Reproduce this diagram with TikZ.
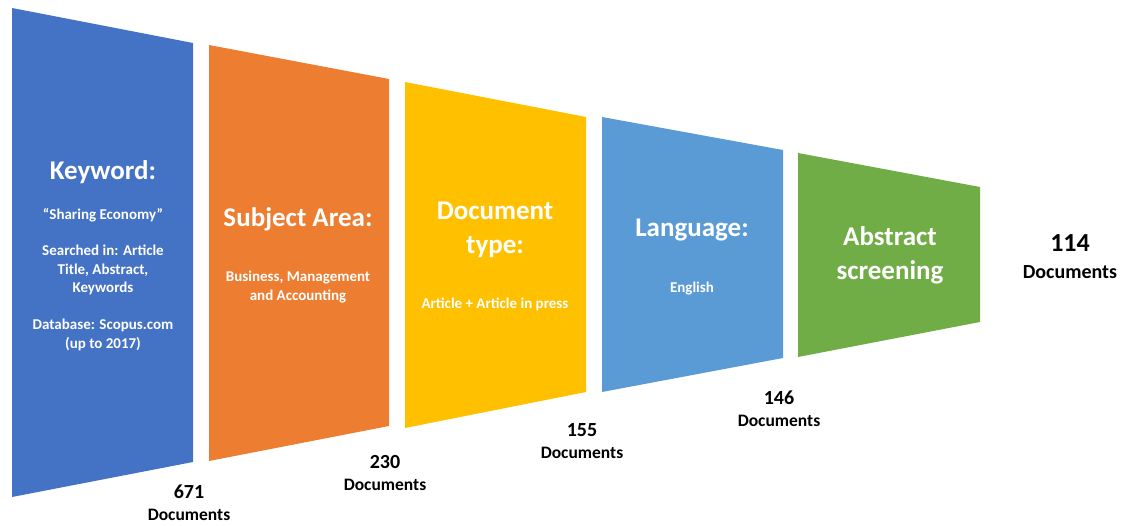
\documentclass[tikz,border=0pt]{standalone}
\usepackage{fontspec}
\setmainfont{Carlito}
\usepackage{xcolor}
\usetikzlibrary{shapes}

\begin{document}
\begin{tikzpicture}[x=1pt,y=-1pt]
\tikzset{
  title/.style={text=white,align=center,font=\fontsize{27}{34}\selectfont\bfseries},
  detail/.style={text=white,align=center,font=\fontsize{15}{18.5}\selectfont\bfseries},
  count/.style={text=black,align=center,font=\fontsize{20}{24}\selectfont\bfseries},
  docs/.style={text=black,align=center,font=\fontsize{17.5}{21}\selectfont\bfseries}
}
\useasboundingbox (0,0) rectangle (1123,526); % Size of the picture
\definecolor{fillcolor}{RGB}{68,114,196} % Definition of the fill color
\fill[fillcolor] (12,8) -- (193,43) -- (193,462) -- (12,497) -- cycle; % Draw the keyword trapezium
\node[title] (keyword) at (103,172) {Keyword:};
\node[detail] (sharing) at (103,215) {“Sharing Economy”};
\node[detail] (searched) at (103,270) {Searched in: Article\\Title, Abstract,\\Keywords};
\node[detail] (database) at (103,335) {Database: Scopus.com\\(up to 2017)};
\definecolor{fillcolor}{RGB}{237,125,49} % Definition of the fill color
\fill[fillcolor] (209,45) -- (389,79) -- (389,426) -- (209,461) -- cycle; % Draw the subject trapezium
\node[title] (subject) at (298,219) {Subject Area:};
\node[detail] (business) at (298,287) {Business, Management\\and Accounting};
\definecolor{fillcolor}{RGB}{255,192,0} % Definition of the fill color
\fill[fillcolor] (405,82) -- (586,117) -- (586,392) -- (405,428) -- cycle; % Draw the document type trapezium
\node[title] (doctype) at (495,230) {Document\\type:};
\node[detail] (article) at (495,304) {Article + Article in press};
\definecolor{fillcolor}{RGB}{91,155,213} % Definition of the fill color
\fill[fillcolor] (602,117) -- (783,150) -- (783,358) -- (602,392) -- cycle; % Draw the language trapezium
\node[title] (language) at (692,230) {Language:};
\node[detail] (english) at (692,289) {English};
\definecolor{fillcolor}{RGB}{112,173,71} % Definition of the fill color
\fill[fillcolor] (798,153) -- (980,187) -- (980,322) -- (798,357) -- cycle; % Draw the abstract trapezium
\node[title] (abstract) at (890,255) {Abstract\\screening};
\node[count] (n671) at (189,492) {671};
\node[docs] (d671) at (189,515) {Documents};
\node[count] (n230) at (385,462) {230};
\node[docs] (d230) at (385,485) {Documents};
\node[count] (n155) at (582,430) {155};
\node[docs] (d155) at (582,453) {Documents};
\node[count] (n146) at (779,398) {146};
\node[docs] (d146) at (779,421) {Documents};
\node[count,font=\fontsize{26}{30}\selectfont\bfseries] (n114) at (1070,243) {114};
\node[docs,font=\fontsize{20}{24}\selectfont\bfseries] (d114) at (1070,272) {Documents};
\end{tikzpicture}
\end{document}
